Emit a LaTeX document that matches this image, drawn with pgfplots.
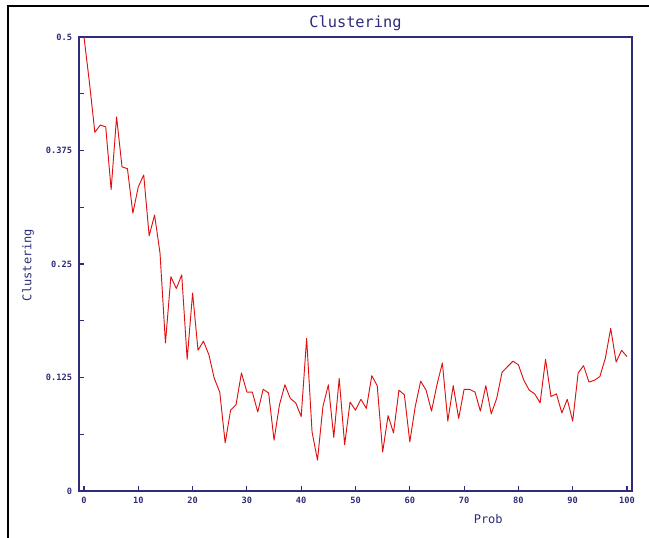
\documentclass[border=0pt]{standalone}
\usepackage{pgfplots}
\pgfplotsset{compat=1.18}
\usepackage{fontspec}
\newfontfamily\plotmono{DejaVu Sans Mono}

\definecolor{navy}{RGB}{44,44,122}
\definecolor{curve}{RGB}{222,16,16}

% clustering coefficient against rewiring probability
\pgfplotstableread{
p  c
0   0.500
1   0.450
2   0.395
3   0.403
4   0.401
5   0.332
6   0.412
7   0.357
8   0.355
9   0.306
10  0.335
11  0.348
12  0.281
13  0.304
14  0.262
15  0.163
16  0.236
17  0.223
18  0.238
19  0.145
20  0.218
21  0.155
22  0.165
23  0.150
24  0.124
25  0.109
26  0.053
27  0.089
28  0.095
29  0.130
30  0.109
31  0.109
32  0.087
33  0.112
34  0.108
35  0.056
36  0.095
37  0.117
38  0.102
39  0.097
40  0.082
41  0.168
42  0.065
43  0.034
44  0.093
45  0.117
46  0.059
47  0.124
48  0.051
49  0.098
50  0.089
51  0.101
52  0.091
53  0.127
54  0.116
55  0.043
56  0.083
57  0.064
58  0.111
59  0.106
60  0.054
61  0.093
62  0.121
63  0.111
64  0.088
65  0.117
66  0.141
67  0.077
68  0.116
69  0.080
70  0.112
71  0.112
72  0.109
73  0.088
74  0.116
75  0.085
76  0.102
77  0.131
78  0.137
79  0.143
80  0.139
81  0.122
82  0.111
83  0.107
84  0.097
85  0.145
86  0.104
87  0.107
88  0.086
89  0.101
90  0.077
91  0.130
92  0.138
93  0.120
94  0.122
95  0.126
96  0.146
97  0.179
98  0.142
99  0.155
100 0.148
}\clustering

\begin{document}
\begin{tikzpicture}
  % page frame, in pixel-sized units
  \begin{scope}[x=0.75pt,y=0.75pt]
    \path[use as bounding box] (-79,-46) rectangle (570,491);
    \draw[black,line width=1.5pt] (-70.7,-50) -- (-70.7,485.3) -- (575,485.3);
  \end{scope}
  \begin{axis}[
      at={(0,0)}, anchor=south west,
      scale only axis,
      width=414.75pt, height=340.5pt,
      xmin=-0.92, xmax=100.92,
      ymin=0, ymax=0.5,
      axis line style={navy, line width=1pt},
      tick style={navy, line width=0.8pt},
      tick pos=left,
      tick align=inside,
      major tick length=3.75pt,
      xtick={0,10,...,100},
      xticklabels={0,10,20,30,40,50,60,70,80,90,100},
      ytick={0,0.0625,0.125,0.1875,0.25,0.3125,0.375,0.4375,0.5},
      yticklabels={0,,0.125,,0.25,,0.375,,0.5},
      ticklabel style={font=\plotmono\fontsize{6.5}{7}\selectfont\bfseries, text=navy, inner sep=0pt},
      xticklabel style={anchor=north, yshift=-4.3pt},
      yticklabel style={anchor=east, xshift=-5pt},
      title={Clustering},
      title style={font=\plotmono\fontsize{11.5}{13}\selectfont, text=navy,
                   at={(axis description cs:0.5,1.013)}, anchor=center},
      xlabel={Prob},
      xlabel style={font=\plotmono\fontsize{9}{10}\selectfont, text=navy,
                    at={(axis description cs:0.74,-0.062)}, anchor=center},
      ylabel={Clustering},
      ylabel style={font=\plotmono\fontsize{9}{10}\selectfont, text=navy,
                    at={(axis description cs:-0.092,0.498)}, anchor=center, rotate=0},
    ]
    \addplot[curve, line width=0.7pt, line join=round] table[x=p, y=c] {\clustering};
  \end{axis}
\end{tikzpicture}
\end{document}
